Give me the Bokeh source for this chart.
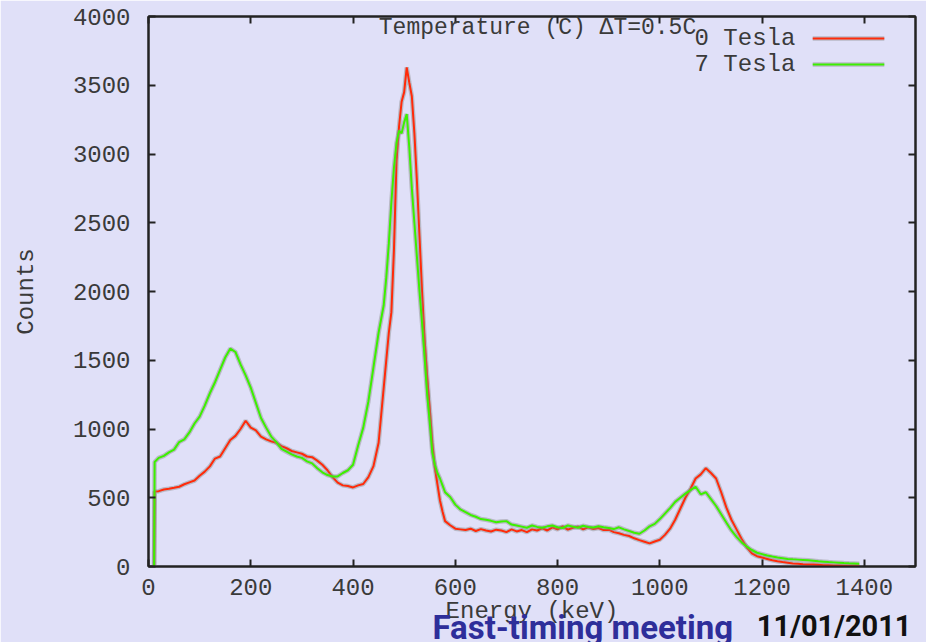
from bokeh.plotting import figure
from bokeh.models import LinearAxis, Label, FixedTicker, Range1d, Title
from bokeh.embed import file_html
from bokeh.resources import INLINE

# ---------------- data ----------------
energy = ([11, 12] + list(range(20, 450, 10)) + list(range(450, 580, 5))
          + list(range(580, 1400, 10)))

counts_0T = [
    0, 545,
    548, 560, 565, 572, 580, 598, 612, 625, 660, 690,
    728, 785, 800, 860, 920, 950, 1000, 1060, 1010, 990,
    945, 925, 910, 900, 875, 860, 840, 830, 820, 800,
    795, 770, 740, 700, 650, 610, 590, 585, 575, 590,
    600, 650, 730,
    900, 1100, 1300, 1500, 1700, 1850, 2300, 2950, 3200, 3380,
    3450, 3630, 3520, 3420, 3150, 2800, 2400, 2000, 1650, 1380,
    1150, 900, 720, 600, 480, 400,
    330, 300, 275, 270, 265, 275, 258, 272, 262, 255,
    268, 262, 250, 270, 255, 265, 250, 270, 262, 278,
    262, 285, 270, 292, 268, 282, 290, 270, 285, 272,
    280, 265, 268, 250, 242, 230, 222, 205, 192, 180,
    168, 182, 195, 230, 275, 340, 420, 500, 565, 640,
    670, 715, 680, 640, 540, 430, 340, 270, 200, 140,
    95, 75, 65, 55, 45, 38, 32, 28, 22, 20,
    17, 15, 14, 12, 10, 9, 8, 7, 6, 6,
    5, 5,
]

counts_7T = [
    0, 760,
    790, 805, 830, 850, 905, 925, 975, 1040, 1090, 1170,
    1260, 1340, 1430, 1520, 1585, 1560, 1470, 1390, 1300, 1190,
    1080, 1010, 945, 905, 855, 835, 815, 800, 790, 765,
    750, 715, 685, 665, 655, 655, 680, 700, 740, 880,
    1010, 1200, 1450,
    1700, 1800, 1900, 2100, 2350, 2650, 2900, 3080, 3170, 3150,
    3230, 3290, 3050, 2750, 2500, 2250, 2000, 1770, 1520, 1250,
    1050, 830, 740, 680, 640, 590,
    540, 505, 450, 415, 395, 375, 362, 345, 340, 332,
    322, 328, 330, 305, 298, 290, 282, 298, 288, 282,
    292, 298, 285, 280, 298, 290, 282, 296, 288, 284,
    292, 285, 280, 272, 285, 270, 258, 245, 238, 262,
    292, 310, 345, 385, 425, 470, 500, 530, 555, 580,
    525, 540, 490, 440, 380, 320, 262, 215, 175, 145,
    120, 100, 90, 80, 72, 65, 60, 55, 52, 50,
    48, 45, 42, 38, 35, 32, 30, 28, 25, 23,
    22, 20,
]

x_ticks = [0, 200, 400, 600, 800, 1000, 1200, 1400]
y_ticks = [0, 500, 1000, 1500, 2000, 2500, 3000, 3500, 4000]
series_names = ["0 Tesla", "7 Tesla"]
series_colors = ["#ff2a0a", "#3cf000"]
title_text = "Temperature (C) \u0394T=0.5C"

# ---------------- figure ----------------
BG = "#e0e0f8"
MONO = "Liberation Mono"
TXT = "#3a3a3a"

p = figure(width=926, height=642, output_backend="svg", toolbar_location=None,
           x_range=Range1d(0, 1500), y_range=Range1d(0, 4000),
           min_border_left=148, min_border_right=11,
           min_border_top=16, min_border_bottom=76)
p.background_fill_color = BG
p.border_fill_color = BG
p.outline_line_color = "#222222"
p.outline_line_width = 2
p.grid.visible = False

for ax in (p.xaxis, p.yaxis):
    ax.major_tick_in = 7
    ax.major_tick_out = 0
    ax.minor_tick_line_color = None
    ax.axis_line_color = "#222222"
    ax.axis_line_width = 2
    ax.major_tick_line_color = "#222222"
    ax.major_tick_line_width = 2
    ax.major_label_text_font = MONO
    ax.major_label_text_font_size = "24px"
    ax.major_label_text_color = TXT
    ax.axis_label_text_font = MONO
    ax.axis_label_text_font_size = "24px"
    ax.axis_label_text_font_style = "normal"
    ax.axis_label_text_color = TXT

p.xaxis.ticker = FixedTicker(ticks=x_ticks)
p.yaxis.ticker = FixedTicker(ticks=y_ticks)
p.xaxis.axis_label = "Energy (keV)"
p.yaxis.axis_label = "Counts"
p.xaxis.major_label_standoff = 12
p.xaxis.axis_label_standoff = 0
p.yaxis.major_label_standoff = 18
p.yaxis.axis_label_standoff = 30

# mirrored ticks (no labels)
top = LinearAxis(ticker=FixedTicker(ticks=x_ticks))
right = LinearAxis(ticker=FixedTicker(ticks=y_ticks))
for ax in (top, right):
    ax.major_tick_in = 7
    ax.major_tick_out = 0
    ax.minor_tick_line_color = None
    ax.major_label_text_font_size = "1px"
    ax.major_label_text_color = None
    ax.major_label_standoff = 0
    ax.axis_line_color = "#222222"
    ax.axis_line_width = 2
    ax.major_tick_line_color = "#222222"
    ax.major_tick_line_width = 2
p.add_layout(top, "above")
p.add_layout(right, "right")

# data lines (gray halo + colored line)
for ys, col in zip([counts_0T, counts_7T], series_colors):
    p.line(energy, ys, line_color="#8a8a8a", line_width=4.5, line_alpha=0.45)
    p.line(energy, ys, line_color=col, line_width=2)

# key (gnuplot style: text, then line sample)
key_y = [3840, 3651]
for name, col, ky in zip(series_names, series_colors, key_y):
    p.add_layout(Label(x=1265, y=ky, text=name, text_align="right",
                       text_baseline="middle", text_font=MONO,
                       text_font_size="24px", text_color=TXT))
    p.line([1299, 1439], [ky, ky], line_color="#8a8a8a", line_width=4.5, line_alpha=0.45)
    p.line([1299, 1439], [ky, ky], line_color=col, line_width=2)

# title hugging the top border (inside the frame)
p.add_layout(Label(x=389, y=539, x_units="screen", y_units="screen",
                   text=title_text, text_align="center",
                   text_baseline="alphabetic", text_font=MONO,
                   text_font_size="23px", text_color=TXT))

# slide footer overlay: zero-height titles below the axis
FOOT = "'Liberation Sans Narrow', 'Arial Narrow', Roboto, sans-serif"
p.add_layout(Title(text="Fast-timing meeting", align="left", offset=284,
                   vertical_align="top", standoff=-40,
                   text_font=FOOT, text_font_size="33px",
                   text_font_style="bold", text_color="#2e2e9a"), "below")
p.add_layout(Title(text="11/01/2011", align="right", offset=4,
                   vertical_align="top", standoff=-40,
                   text_font=FOOT, text_font_size="29px",
                   text_font_style="bold", text_color="#111111"), "below")

open("out.html", "w").write(file_html(p, INLINE))
